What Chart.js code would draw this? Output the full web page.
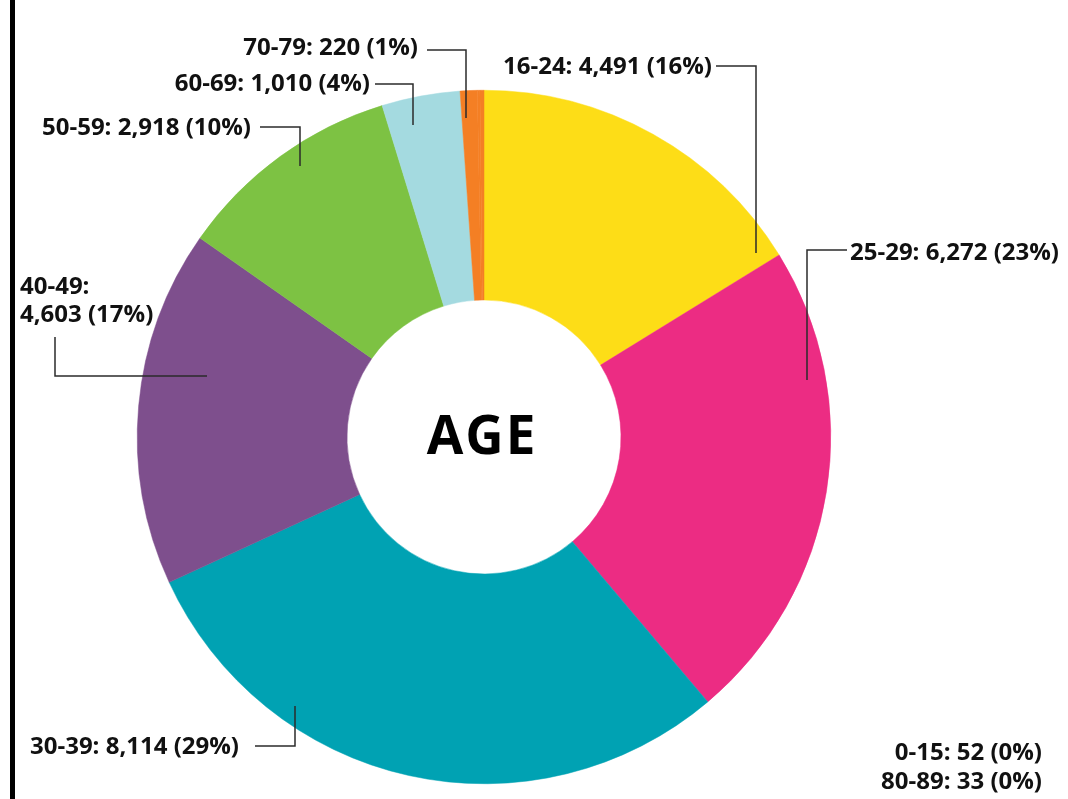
<!DOCTYPE html>
<html>
<head>
<meta charset="utf-8">
<script src="https://cdn.jsdelivr.net/npm/chart.js@4/dist/chart.umd.min.js"></script>
<style>
  body { margin: 0; background: #fff; }
  #wrap { width: 1068px; height: 799px; position: relative; }
</style>
</head>
<body>
<div id="wrap"><canvas id="ageChart" width="1068" height="799"></canvas></div>
<script>
// Data
const ageGroups = ["16-24", "25-29", "30-39", "40-49", "50-59", "60-69", "70-79", "80-89", "0-15"];
const counts = [4491, 6272, 8114, 4603, 2918, 1010, 220, 33, 52];
const percents = [16, 23, 29, 17, 10, 4, 1, 0, 0];
const sliceColors = ["#FDDD17", "#EC2C83", "#00A2B3", "#7E4F8D", "#7DC243", "#A4DAE0", "#F47F24", "#F47F24", "#F47F24"];
const centerTitle = "AGE";

const labelFont = "bold 24px 'Open Sans'";

// Where each callout sits (index into the arrays above), plus its leader line
const callouts = [
  { i: 0, x: 712, y: 67, align: "right", line: [[716, 66], [756, 66], [756, 253]] },
  { i: 1, x: 850, y: 253, align: "left", line: [[847, 250], [807, 250], [807, 380]] },
  { i: 2, x: 30, y: 747, align: "left", line: [[255, 746], [295, 746], [295, 706]] },
  { i: 3, x: 20, y: 301, align: "left", split: true, line: [[55, 337], [55, 376], [207, 376]] },
  { i: 4, x: 42, y: 128, align: "left", line: [[260, 127], [300, 127], [300, 166]] },
  { i: 5, x: 370, y: 84, align: "right", line: [[375, 84], [413, 84], [413, 125]] },
  { i: 6, x: 418, y: 48, align: "right", line: [[427, 50], [466, 50], [466, 118]] },
  { i: 8, x: 1042, y: 753, align: "right", line: null },
  { i: 7, x: 1042, y: 782, align: "right", line: null }
];

function calloutText(i) {
  return ageGroups[i] + ": " + counts[i].toLocaleString("en-US") + " (" + percents[i] + "%)";
}

// Draw the left rule, leader lines, callout text and centre title
const annotations = {
  id: "annotations",
  beforeDraw(chart) {
    const ctx = chart.ctx;
    ctx.save();
    ctx.fillStyle = "#000";
    ctx.fillRect(10, 0, 5, chart.height);
    ctx.restore();
  },
  afterDraw(chart) {
    const ctx = chart.ctx;
    ctx.save();

    ctx.strokeStyle = "#2b2b2b";
    ctx.lineWidth = 1.5;
    callouts.forEach(c => {
      if (!c.line) return;
      ctx.beginPath();
      c.line.forEach((p, k) => k === 0 ? ctx.moveTo(p[0], p[1]) : ctx.lineTo(p[0], p[1]));
      ctx.stroke();
    });

    ctx.fillStyle = "#111";
    ctx.font = labelFont;
    ctx.textBaseline = "middle";
    callouts.forEach(c => {
      ctx.textAlign = c.align;
      if (c.split) {
        ctx.fillText(ageGroups[c.i] + ":", c.x, c.y - 14);
        ctx.fillText(counts[c.i].toLocaleString("en-US") + " (" + percents[c.i] + "%)", c.x, c.y + 14);
      } else {
        ctx.fillText(calloutText(c.i), c.x, c.y);
      }
    });

    const arc = chart.getDatasetMeta(0).data[0];
    ctx.font = "bold 53px 'Open Sans'";
    ctx.letterSpacing = "2px";
    ctx.textAlign = "center";
    ctx.fillStyle = "#000";
    ctx.fillText(centerTitle, arc.x - 2, arc.y + 2);
    ctx.restore();
  }
};

new Chart(document.getElementById("ageChart"), {
  type: "doughnut",
  data: {
    labels: ageGroups,
    datasets: [{
      data: counts,
      backgroundColor: sliceColors,
      borderColor: sliceColors,
      borderWidth: 0.5
    }]
  },
  options: {
    responsive: false,
    animation: false,
    cutout: "39.5%",
    layout: { padding: { left: 137, right: 237, top: 90, bottom: 15 } },
    plugins: {
      legend: { display: false },
      tooltip: { enabled: false }
    }
  },
  plugins: [annotations]
});
</script>
</body>
</html>
